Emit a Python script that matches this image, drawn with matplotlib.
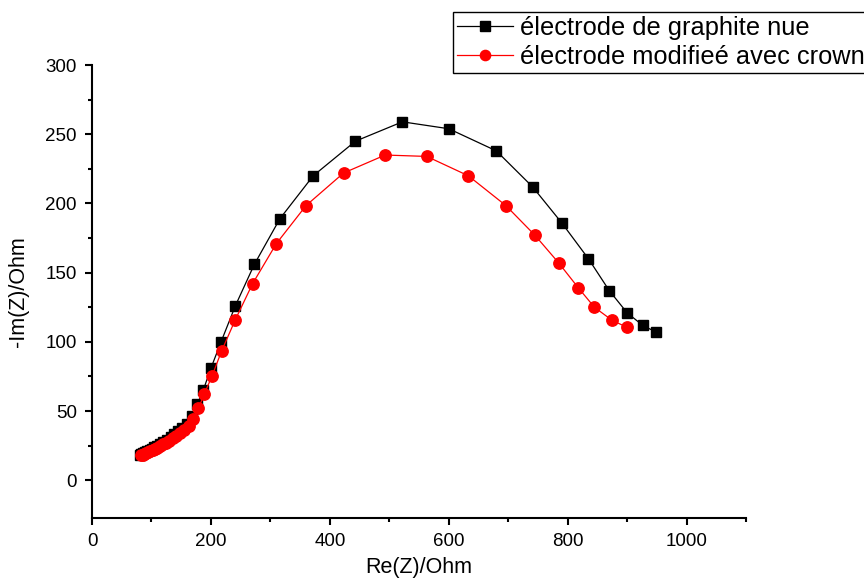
import numpy as np
import matplotlib.pyplot as plt

plt.rcParams['font.family'] = ['Liberation Sans', 'DejaVu Sans']

# electrode de graphite nue (Nyquist points)
re_nue = [80, 83, 86, 89, 93, 97, 101, 105, 110, 115, 120, 126, 132, 138, 145, 152,
          160, 168, 177, 187, 200, 217, 241, 273, 316, 372, 443, 522, 600, 680,
          741, 790, 835, 870, 900, 926, 949]
im_nue = [18.5, 19, 19.5, 20.2, 21, 21.9, 22.8, 23.8, 25, 26.3, 27.7, 29.3, 31.1, 33.1, 35.4, 37.9,
          40.8, 46.5, 55, 65, 81, 100, 126, 156, 189, 220, 245, 259, 254, 238,
          212, 186, 160, 137, 121, 112, 107]

# electrode modifiee avec crown
re_crown = [82, 85, 88, 91, 94, 98, 102, 106, 110, 115, 120, 125, 130, 136, 142, 148, 155,
            163, 170, 179, 189, 202, 218, 241, 270, 310, 360, 423, 493, 563, 633,
            696, 745, 785, 818, 845, 875, 900]
im_crown = [18.2, 18.6, 19.1, 19.7, 20.3, 21.0, 21.8, 22.7, 23.6, 24.7, 25.9, 27.2, 28.6, 30.3, 32.2, 34.3, 36.6,
            39.3, 44, 52, 62.5, 75.5, 93.5, 116, 142, 171, 198.5, 222, 235, 234, 220,
            198.5, 177, 157, 139, 125, 115.5, 110.5]

fig = plt.figure(figsize=(8.64, 5.81), dpi=100)
ax = fig.add_axes([0.1065, 0.109, 0.757, 0.779])

ax.plot(re_nue, im_nue, color='black', lw=0.9, marker='s', ms=7.4,
        mec='black', mfc='black', label='électrode de graphite nue')
ax.plot(re_crown, im_crown, color='red', lw=0.9, marker='o', ms=8.2,
        mec='red', mfc='red', label='électrode modifieé avec crown')

ax.set_xlim(0, 1100)
ax.set_ylim(-27, 300)
ax.set_xticks(np.arange(0, 1001, 200))
ax.set_xticks(np.arange(100, 1101, 200), minor=True)
ax.set_yticks(np.arange(0, 301, 50))
ax.set_yticks(np.arange(25, 300, 50), minor=True)

for s in ['top', 'right']:
    ax.spines[s].set_visible(False)
for s in ['left', 'bottom']:
    ax.spines[s].set_linewidth(1.5)

ax.tick_params(which='major', direction='out', length=5, width=1.5, labelsize=13.5, pad=6)
ax.tick_params(which='minor', direction='out', length=3, width=1.5)

ax.set_xlabel('Re(Z)/Ohm', fontsize=15.5, labelpad=5)
ax.set_ylabel('-Im(Z)/Ohm', fontsize=15.5, labelpad=12)

leg = ax.legend(loc='upper left', bbox_to_anchor=(453 / 864, 1 - 12 / 581),
                bbox_transform=fig.transFigure, fontsize=18.3, frameon=True,
                fancybox=False, edgecolor='black', framealpha=1,
                handlelength=2.2, handletextpad=0.3, borderpad=0.15,
                labelspacing=0.2, borderaxespad=0, markerscale=0.9)
leg.get_frame().set_linewidth(1.0)

fig.savefig('out.png', dpi=100)
